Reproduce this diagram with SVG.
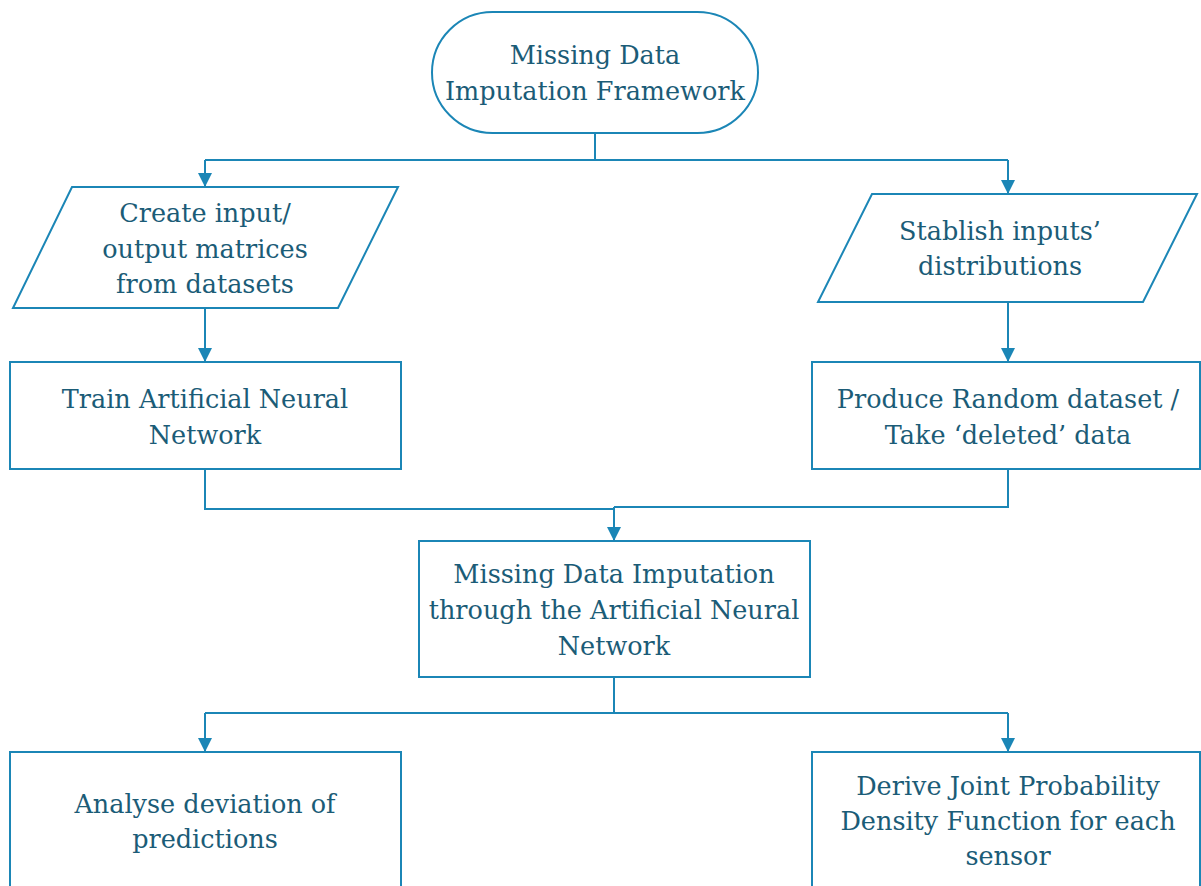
<svg xmlns="http://www.w3.org/2000/svg" width="1201" height="886" viewBox="0 0 1201 886">
  <style>
    .shape { fill: #ffffff; stroke: #1b86b6; stroke-width: 2; }
    .wire { fill: none; stroke: #1b86b6; stroke-width: 2; }
    .label { font-family: "DejaVu Serif", "Liberation Serif", serif; font-size: 25.5px; fill: #1b5c77; text-anchor: middle; }
  </style>
  <defs>
    <marker id="arrow" viewBox="0 0 14 14" refX="14" refY="7" markerWidth="14" markerHeight="14" markerUnits="userSpaceOnUse" orient="auto">
      <path d="M0,0 L14,7 L0,14 Z" fill="#1b86b6"/>
    </marker>
  </defs>
  <rect width="1201" height="886" fill="#ffffff"/>

  <g id="connectors">
    <path class="wire" d="M595,133 V160"/>
    <path class="wire" d="M205,160 H1008"/>
    <path class="wire" d="M205,160 V187" marker-end="url(#arrow)"/>
    <path class="wire" d="M1008,160 V194" marker-end="url(#arrow)"/>
    <path class="wire" d="M205,308 V362" marker-end="url(#arrow)"/>
    <path class="wire" d="M1008,302 V362" marker-end="url(#arrow)"/>
    <path class="wire" d="M205,469 V509 H614"/>
    <path class="wire" d="M1008,469 V507 H614"/>
    <path class="wire" d="M614,507 V541" marker-end="url(#arrow)"/>
    <path class="wire" d="M614,677 V713"/>
    <path class="wire" d="M205,713 H1008"/>
    <path class="wire" d="M205,713 V752" marker-end="url(#arrow)"/>
    <path class="wire" d="M1008,713 V752" marker-end="url(#arrow)"/>
  </g>

  <g id="start">
    <rect class="shape" x="432" y="12" width="326" height="121" rx="60.5" ry="60.5"/>
    <text class="label" x="595" y="64">Missing Data</text>
    <text class="label" x="595" y="100">Imputation Framework</text>
  </g>

  <g id="create-matrices">
    <path class="shape" d="M72,187 H398 L338,308 H13 Z"/>
    <text class="label" x="205" y="222">Create input/</text>
    <text class="label" x="205" y="258">output matrices</text>
    <text class="label" x="205" y="293">from datasets</text>
  </g>

  <g id="input-distributions">
    <path class="shape" d="M872,194 H1197 L1143,302 H818 Z"/>
    <text class="label" x="1000" y="240">Stablish inputs’</text>
    <text class="label" x="1000" y="275">distributions</text>
  </g>

  <g id="train-ann">
    <rect class="shape" x="10" y="362" width="391" height="107"/>
    <text class="label" x="205" y="408">Train Artificial Neural</text>
    <text class="label" x="205" y="444">Network</text>
  </g>

  <g id="random-dataset">
    <rect class="shape" x="812" y="362" width="388" height="107"/>
    <text class="label" x="1008" y="408">Produce Random dataset /</text>
    <text class="label" x="1008" y="444">Take ‘deleted’ data</text>
  </g>

  <g id="imputation">
    <rect class="shape" x="419" y="541" width="391" height="136"/>
    <text class="label" x="614" y="583">Missing Data Imputation</text>
    <text class="label" x="614" y="619">through the Artificial Neural</text>
    <text class="label" x="614" y="655">Network</text>
  </g>

  <g id="analyse-deviation">
    <rect class="shape" x="10" y="752" width="391" height="150"/>
    <text class="label" x="205" y="813">Analyse deviation of</text>
    <text class="label" x="205" y="848">predictions</text>
  </g>

  <g id="joint-pdf">
    <rect class="shape" x="812" y="752" width="388" height="150"/>
    <text class="label" x="1008" y="795">Derive Joint Probability</text>
    <text class="label" x="1008" y="830">Density Function for each</text>
    <text class="label" x="1008" y="865">sensor</text>
  </g>
</svg>
